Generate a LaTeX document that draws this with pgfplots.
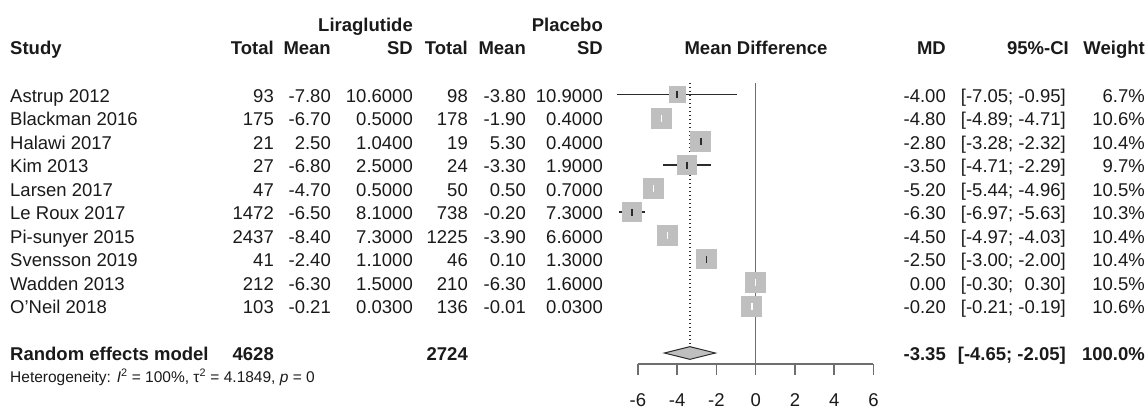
\documentclass[border=0pt]{standalone}
\usepackage{fontspec}
\setmainfont{Liberation Sans}
\usepackage{pgfplots}
\pgfplotsset{compat=1.18}
\definecolor{txt}{HTML}{1A1A1A}
\definecolor{sq}{HTML}{BFBFBF}
\definecolor{ln}{HTML}{2B2B2B}
\definecolor{ax}{HTML}{6E6E6E}
\newcommand\st[6]{%
\addplot[sq, only marks, mark=square*, mark size=#4, mark options={fill=sq, draw=sq, line width=0pt}] coordinates {(#1,#5)};
\addplot[#6, line width=1.6pt] coordinates {(#2,#5) (#3,#5)};
\addplot[#6, only marks, mark=|, mark size=3.5pt, mark options={line width=1.6pt}] coordinates {(#1,#5)};
}
\begin{document}
\fontsize{18.5pt}{22pt}\selectfont
\begin{tikzpicture}[
  R/.style={anchor=base east,inner sep=0pt,text=txt},
  L/.style={anchor=base west,inner sep=0pt,text=txt},
  C/.style={anchor=base,inner sep=0pt,text=txt}]
\path[use as bounding box] (0pt,0pt) rectangle (1148pt,408pt);
\begin{scope}[x=1pt,y=1pt]
% headers
\node[R,font=\bfseries] at (413,376.5) {Liraglutide};
\node[R,font=\bfseries] at (603,376.5) {Placebo};
\node[L,font=\bfseries] at (10,353) {Study};
\node[R,font=\bfseries] at (274,353) {Total};
\node[R,font=\bfseries] at (331,353) {Mean};
\node[R,font=\bfseries] at (413,353) {SD};
\node[R,font=\bfseries] at (468,353) {Total};
\node[R,font=\bfseries] at (526,353) {Mean};
\node[R,font=\bfseries] at (603,353) {SD};
\node[C,font=\bfseries] at (756,353) {Mean Difference};
\node[R,font=\bfseries] at (946,353) {MD};
\node[R,font=\bfseries] at (1069,353) {95\%-CI};
\node[R,font=\bfseries] at (1145,353) {Weight};
% rows
\foreach \y/\s/\a/\b/\c/\d/\e/\f/\m/\ci/\w in {
306/Astrup 2012/93/-7.80/10.6000/98/-3.80/10.9000/-4.00/{[-7.05; -0.95]}/6.7,
282.5/Blackman 2016/175/-6.70/0.5000/178/-1.90/0.4000/-4.80/{[-4.89; -4.71]}/10.6,
259/Halawi 2017/21/2.50/1.0400/19/5.30/0.4000/-2.80/{[-3.28; -2.32]}/10.4,
235.5/Kim 2013/27/-6.80/2.5000/24/-3.30/1.9000/-3.50/{[-4.71; -2.29]}/9.7,
212/Larsen 2017/47/-4.70/0.5000/50/0.50/0.7000/-5.20/{[-5.44; -4.96]}/10.5,
188.5/Le Roux 2017/1472/-6.50/8.1000/738/-0.20/7.3000/-6.30/{[-6.97; -5.63]}/10.3,
165/Pi-sunyer 2015/2437/-8.40/7.3000/1225/-3.90/6.6000/-4.50/{[-4.97; -4.03]}/10.4,
141.5/Svensson 2019/41/-2.40/1.1000/46/0.10/1.3000/-2.50/{[-3.00; -2.00]}/10.4,
118/Wadden 2013/212/-6.30/1.5000/210/-6.30/1.6000/0.00/{[-0.30; \phantom{-}0.30]}/10.5,
94.5/O'Neil 2018/103/-0.21/0.0300/136/-0.01/0.0300/-0.20/{[-0.21; -0.19]}/10.6}{
\node[L] at (10,\y) {\s};
\node[R] at (274,\y) {\a};
\node[R] at (331,\y) {\b};
\node[R] at (413,\y) {\c};
\node[R] at (468,\y) {\d};
\node[R] at (526,\y) {\e};
\node[R] at (603,\y) {\f};
\node[R] at (946,\y) {\m};
\node[R] at (1066,\y) {\ci};
\node[R] at (1145,\y) {\w\%};
}
\node[L,font=\bfseries] at (10,47.5) {Random effects model};
\node[R,font=\bfseries] at (274,47.5) {4628};
\node[R,font=\bfseries] at (468,47.5) {2724};
\node[R,font=\bfseries] at (946,47.5) {-3.35};
\node[R,font=\bfseries] at (1066,47.5) {[-4.65; -2.05]};
\node[R,font=\bfseries] at (1145,47.5) {100.0\%};
\node[L,font=\fontsize{15.5pt}{18pt}\selectfont] at (10,26) {Heterogeneity: \textit{I}\textsuperscript{2} = 100\%, τ\textsuperscript{2} = 4.1849, \textit{p} = 0};
\end{scope}
\begin{axis}[at={(637.9pt,44pt)}, anchor=south west, scale only axis,
  width=235.5pt, height=281.25pt,
  xmin=-6, xmax=6, ymin=-12.468, ymax=-0.5,
  axis x line*=bottom, axis y line=none,
  x axis line style={-, draw=ax, line width=1.4pt},
  xtick={-6,-4,-2,0,2,4,6}, xticklabels={-6,-4,-2,0,2,4,6},
  tick align=outside, major tick length=11pt,
  xtick style={draw=ax, line width=1.4pt},
  xticklabel style={anchor=base, inner sep=0pt, text=txt, yshift=-31pt},
  clip=false]
\addplot[ax, line width=1.4pt] coordinates {(0,-0.5) (0,-12.468)};
\addplot[ln, line width=1.4pt, dash pattern=on 1.4pt off 2.6pt] coordinates {(-3.35,-0.5) (-3.35,-11.73)};
\st{-4.00}{-7.05}{-0.95}{8.1}{-1}{ln}
\st{-4.80}{-4.89}{-4.71}{10}{-2}{white}
\st{-2.80}{-3.28}{-2.32}{9.9}{-3}{ln}
\st{-3.50}{-4.71}{-2.29}{9.57}{-4}{ln}
\st{-5.20}{-5.44}{-4.96}{9.95}{-5}{white}
\st{-6.30}{-6.97}{-5.63}{9.86}{-6}{ln}
\st{-4.50}{-4.97}{-4.03}{9.9}{-7}{white}
\st{-2.50}{-3.00}{-2.00}{9.9}{-8}{ln}
\st{0.00}{-0.30}{0.30}{9.95}{-9}{white}
\st{-0.20}{-0.21}{-0.19}{10}{-10}{white}
\addplot[fill=sq, draw=ln, line width=1pt] coordinates {(-4.65,-12) (-3.35,-11.73) (-2.05,-12) (-3.35,-12.27)} -- cycle;
\end{axis}
\end{tikzpicture}
\end{document}
